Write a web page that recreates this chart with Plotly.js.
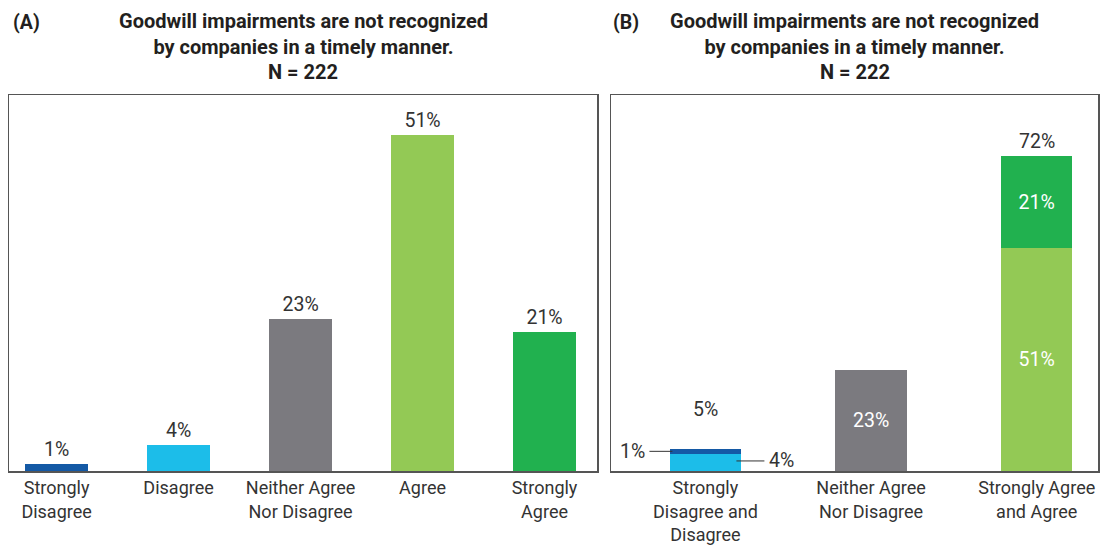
<!DOCTYPE html>
<html><head><meta charset="utf-8">
<script src="https://cdn.plot.ly/plotly-3.0.1.min.js"></script>
<style>html,body{margin:0;padding:0;background:#fff}#chart{width:1105px;height:545px}</style>
</head><body><div id="chart"></div>
<script>
// ---- data ----
const catsA = ['Strongly<br>Disagree', 'Disagree', 'Neither Agree<br>Nor Disagree', 'Agree', 'Strongly<br>Agree'];
const valsA = [1, 4, 23, 51, 21];
const catsB = ['Strongly<br>Disagree and<br>Disagree', 'Neither Agree<br>Nor Disagree', 'Strongly Agree<br>and Agree'];
const bBottom = [4, 23, 51];   // Disagree, Neither, Agree
const bTop = [1, 0, 21];       // Strongly Disagree, -, Strongly Agree
const titleText = 'Goodwill impairments are not recognized<br>by companies in a timely manner.';
const nText = 'N = 222';

// ---- styles ----
const colorsA = ['#1459a5', '#1cbde9', '#7b7a7f', '#93c955', '#21b14f'];
const colorsBBottom = ['#1cbde9', '#7b7a7f', '#93c955'];
const colorsBTop = ['#1459a5', '#7b7a7f', '#21b14f'];
const FONT = 'Roboto, "DejaVu Sans", sans-serif';
const TXT = '#333333';
const TTL = '#231f20';
const VS = 19.5;   // value label size
const KS = 18;     // category tick size
const TS = 20;     // title size

const totalsB = bBottom.map((v, i) => v + bTop[i]);

const traces = [
  {
    type: 'bar', x: catsA, y: valsA, xaxis: 'x', yaxis: 'y',
    marker: {color: colorsA}, width: 0.51,
    text: valsA.map(v => v + '%'), textposition: 'outside', cliponaxis: false,
    textfont: {family: FONT, size: VS, color: TXT}, hoverinfo: 'skip'
  },
  {
    type: 'bar', x: catsB, y: bBottom, xaxis: 'x2', yaxis: 'y2',
    marker: {color: colorsBBottom}, width: 0.43,
    text: bBottom.map((v, i) => i === 0 ? '' : v + '%'), textposition: 'inside', insidetextanchor: 'middle',
    textfont: {family: FONT, size: VS, color: '#ffffff'}, hoverinfo: 'skip'
  },
  {
    type: 'bar', x: catsB, y: bTop, xaxis: 'x2', yaxis: 'y2',
    marker: {color: colorsBTop}, width: 0.43,
    text: bTop.map((v, i) => i === 0 || v === 0 ? '' : v + '%'), textposition: 'inside', insidetextanchor: 'middle',
    textfont: {family: FONT, size: VS, color: '#ffffff'}, hoverinfo: 'skip'
  }
];

const axisCommon = {
  showgrid: false, zeroline: false, showline: true, mirror: true,
  linecolor: '#555555', linewidth: 1.5, ticks: '', fixedrange: true
};

const annotations = [
  {xref: 'paper', yref: 'paper', x: 11/1105, y: 1 - 22/545, xanchor: 'left', yanchor: 'middle', showarrow: false,
   text: '<b>(A)</b>', font: {family: FONT, size: 19.5, color: TTL}},
  {xref: 'paper', yref: 'paper', x: 611/1105, y: 1 - 22/545, xanchor: 'left', yanchor: 'middle', showarrow: false,
   text: '<b>(B)</b>', font: {family: FONT, size: 19.5, color: TTL}},
  {xref: 'x domain', yref: 'paper', x: 0.5, y: 1 - 7/545, xanchor: 'center', yanchor: 'top', showarrow: false,
   text: '<b>' + titleText + '</b>', font: {family: FONT, size: TS, color: TTL}},
  {xref: 'x2 domain', yref: 'paper', x: 0.5, y: 1 - 7/545, xanchor: 'center', yanchor: 'top', showarrow: false,
   text: '<b>' + titleText + '</b>', font: {family: FONT, size: TS, color: TTL}},
  {xref: 'x domain', yref: 'paper', x: 0.5, y: 1 - 72/545, xanchor: 'center', yanchor: 'middle', showarrow: false,
   text: '<b>' + nText + '</b>', font: {family: FONT, size: TS, color: TTL}},
  {xref: 'x2 domain', yref: 'paper', x: 0.5, y: 1 - 72/545, xanchor: 'center', yanchor: 'middle', showarrow: false,
   text: '<b>' + nText + '</b>', font: {family: FONT, size: TS, color: TTL}},
  // totals
  {xref: 'x2', yref: 'y2', x: catsB[0], y: totalsB[0], yanchor: 'bottom', showarrow: false, yshift: 26,
   text: totalsB[0] + '%', font: {family: FONT, size: VS, color: TXT}},
  {xref: 'x2', yref: 'y2', x: catsB[2], y: totalsB[2], yanchor: 'bottom', showarrow: false, yshift: 1,
   text: totalsB[2] + '%', font: {family: FONT, size: VS, color: TXT}},
  // callouts
  {xref: 'x2', yref: 'y2', x: catsB[0], y: bBottom[0] + bTop[0] / 2, xshift: -33, showarrow: true,
   arrowhead: 0, arrowwidth: 1, arrowcolor: '#333', ax: -40, ay: 0, standoff: 0, borderpad: 4,
   text: bTop[0] + '%', font: {family: FONT, size: VS, color: TXT}},
  {xref: 'x2', yref: 'y2', x: catsB[0], y: bBottom[0] / 2 + 0.3, xshift: 31, showarrow: true,
   arrowhead: 0, arrowwidth: 1, arrowcolor: '#333', ax: 45, ay: 0, standoff: 0, borderpad: 4,
   text: bBottom[0] + '%', font: {family: FONT, size: VS, color: TXT}}
];

const layout = {
  width: 1105, height: 545,
  margin: {l: 0, r: 0, t: 0, b: 0},
  paper_bgcolor: '#ffffff', plot_bgcolor: '#ffffff',
  showlegend: false, barmode: 'stack', bargap: 0,
  font: {family: FONT, size: KS, color: TXT},
  xaxis: Object.assign({}, axisCommon, {domain: [9/1105, 597/1105], type: 'category', range: [-0.39, 4.43],
    tickfont: {family: FONT, size: KS, color: TXT}, anchor: 'y'}),
  yaxis: Object.assign({}, axisCommon, {domain: [1 - 471/545, 1 - 95/545], range: [0, 57], showticklabels: false, anchor: 'x'}),
  xaxis2: Object.assign({}, axisCommon, {domain: [611/1105, 1098/1105], type: 'category', range: [-0.57, 2.37],
    tickfont: {family: FONT, size: KS, color: TXT}, anchor: 'y2'}),
  yaxis2: Object.assign({}, axisCommon, {domain: [1 - 471/545, 1 - 95/545], range: [0, 86], showticklabels: false, anchor: 'x2'}),
  annotations: annotations
};

Plotly.newPlot('chart', traces, layout, {displayModeBar: false, staticPlot: true});
</script></body></html>
